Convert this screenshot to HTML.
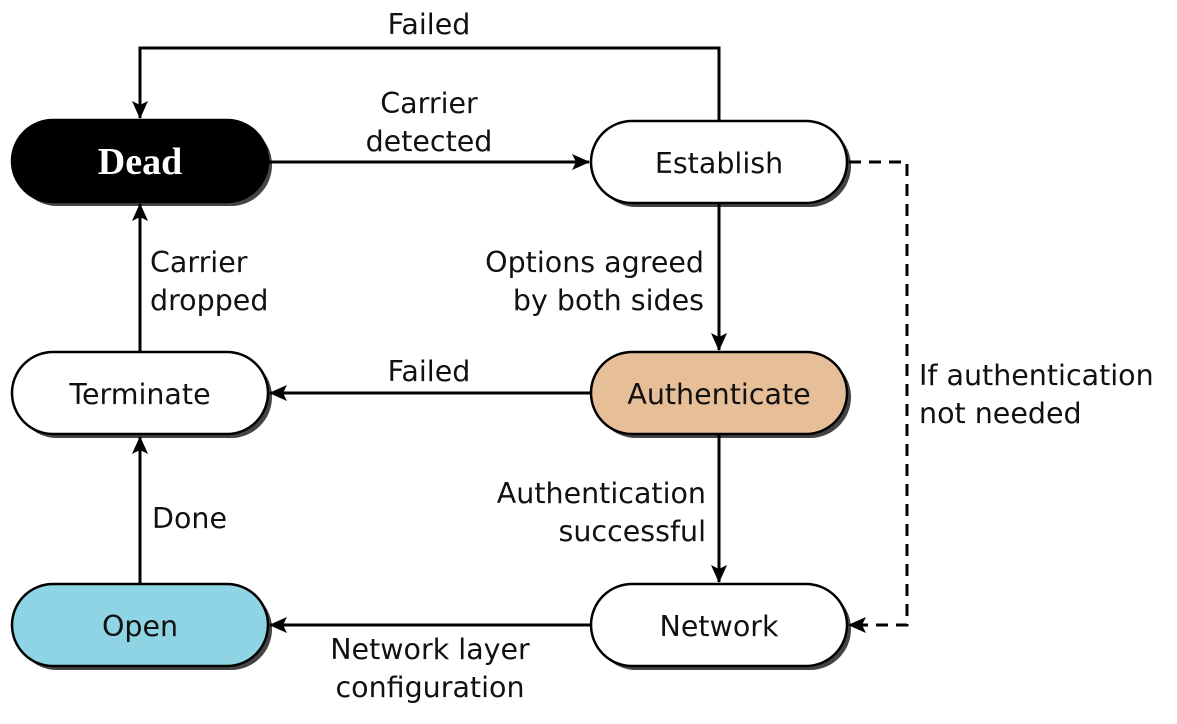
<!DOCTYPE html>
<html><head><style>html,body{margin:0;padding:0;background:#fff}</style></head><body>
<svg width="1177" height="719" viewBox="0 0 1177 719" xmlns="http://www.w3.org/2000/svg" font-family="'DejaVu Sans','Liberation Sans',sans-serif" font-size="28.5">
<defs>
<marker id="a" markerWidth="18" markerHeight="16" refX="17" refY="8" orient="auto" markerUnits="userSpaceOnUse"><path d="M0,0 L18,8 L0,16 L4,8 Z" fill="#000"/></marker>
</defs>
<g fill="#444">
<rect x="16" y="124" width="256" height="82" rx="41"/>
<rect x="595" y="125" width="256" height="82" rx="41"/>
<rect x="16" y="356" width="256" height="82" rx="41"/>
<rect x="595" y="356" width="256" height="82" rx="41"/>
<rect x="16" y="588" width="256" height="82" rx="41"/>
<rect x="595" y="588" width="256" height="82" rx="41"/>
</g>
<g stroke="#000" stroke-width="2.5">
<rect x="12" y="120" width="256" height="82" rx="41" fill="#000"/>
<rect x="591" y="121" width="256" height="82" rx="41" fill="#fff"/>
<rect x="12" y="352" width="256" height="82" rx="41" fill="#fff"/>
<rect x="591" y="352" width="256" height="82" rx="41" fill="#e6be97"/>
<rect x="12" y="584" width="256" height="82" rx="41" fill="#8fd4e4"/>
<rect x="591" y="584" width="256" height="82" rx="41" fill="#fff"/>
</g>
<g stroke="#000" stroke-width="3" fill="none" marker-end="url(#a)">
<path d="M268,162 H589"/>
<path d="M719,121 V48 H140 V118"/>
<path d="M719,203 V350"/>
<path d="M591,393 H270"/>
<path d="M719,434 V582"/>
<path d="M591,625 H270"/>
<path d="M140,584 V437"/>
<path d="M140,352 V204"/>
<path d="M849,162 H907 V625 H849" stroke-dasharray="12,8"/>
</g>
<text x="140" y="174" text-anchor="middle" fill="#fff" font-family="'Liberation Serif',serif" font-weight="bold" font-size="38">Dead</text>
<g text-anchor="middle" fill="#111">
<text x="719" y="173">Establish</text>
<text x="140" y="404">Terminate</text>
<text x="719" y="404">Authenticate</text>
<text x="140" y="636">Open</text>
<text x="719" y="636">Network</text>
<text x="429" y="34">Failed</text>
<text x="429" y="113">Carrier</text>
<text x="429" y="151">detected</text>
<text x="429" y="381">Failed</text>
<text x="430" y="659">Network layer</text>
<text x="430" y="697">configuration</text>
</g>
<g fill="#111">
<text x="150" y="272">Carrier</text>
<text x="150" y="310">dropped</text>
<text x="152" y="528">Done</text>
<text x="919" y="385">If authentication</text>
<text x="919" y="423">not needed</text>
</g>
<g text-anchor="end" fill="#111">
<text x="704" y="272">Options agreed</text>
<text x="704" y="310">by both sides</text>
<text x="706" y="503">Authentication</text>
<text x="706" y="541">successful</text>
</g>
</svg>
</body></html>
